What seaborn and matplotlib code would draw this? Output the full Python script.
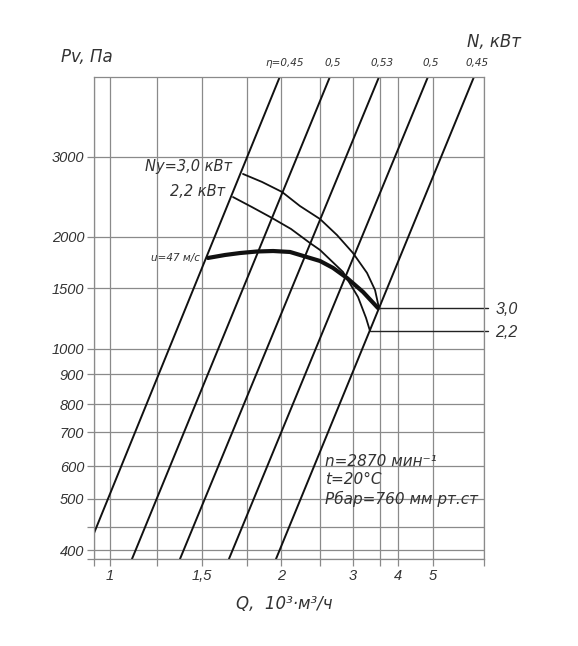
import numpy as np
import matplotlib
matplotlib.use('Agg')
import matplotlib.pyplot as plt
import seaborn as sns
from matplotlib.ticker import FixedLocator, FixedFormatter, NullFormatter

# ---- axis calibration (the printed chart is not a true log grid) ----
q_grid = [0.93, 1, 1.25, 1.5, 1.75, 2, 2.5, 3, 3.5, 4, 5, 7]
q_grid_pos = [94, 110, 157, 202, 247, 281, 320, 353, 380, 398, 433, 484]
p_grid = [382, 400, 450, 500, 600, 700, 800, 900, 1000, 1500, 2000, 3000, 4470]
p_grid_pos = [87, 96, 119, 147, 180, 214, 242, 272, 297, 358, 409, 489, 569]

q_ticks = [1, 1.5, 2, 3, 4, 5]
q_ticklabels = ['1', '1,5', '2', '3', '4', '5']
q_minor = [0.93, 1.25, 1.75, 2.5, 3.5, 7]
p_ticks = [400, 500, 600, 700, 800, 900, 1000, 1500, 2000, 3000]
p_minor = [382, 450]

# ---- efficiency rays ----
eta_labels = ['η=0,45', '0,5', '0,53', '0,5', '0,45']
eta_q_low = [0.93, 1.11, 1.372, 1.645, 1.961]
eta_p_low = [436, 382, 382, 382, 382]
eta_q_high = [1.99, 2.64, 3.48, 4.84, 6.55]
eta_p_high = [4470, 4470, 4470, 4470, 4470]

# ---- motor power curves ----
n30_q = [1.726, 1.856, 2.012, 2.229, 2.5, 2.746, 3.0, 3.25, 3.402, 3.48]
n30_p = [2753, 2644, 2513, 2340, 2191, 2020, 1827, 1633, 1480, 1313]
n22_q = [1.668, 1.784, 1.931, 2.118, 2.361, 2.5, 2.839, 3.087, 3.232, 3.306]
n22_p = [2449, 2328, 2202, 2083, 1933, 1859, 1642, 1413, 1229, 1127]

# ---- fan curve u=47 m/s ----
fan_q = [1.531, 1.623, 1.708, 1.82, 1.939, 2.106, 2.32, 2.5, 2.686, 2.902, 3.177, 3.46]
fan_p = [1777, 1807, 1827, 1843, 1848, 1838, 1786, 1747, 1680, 1587, 1461, 1313]

# right-hand power marks
n_marks = ['3,0', '2,2']
n_marks_q = [3.48, 3.306]
n_marks_p = [1313, 1127]


def interp_ext(x, xp, fp):
    x = np.asarray(x, float)
    y = np.interp(x, xp, fp)
    lo = (fp[1] - fp[0]) / (xp[1] - xp[0])
    hi = (fp[-1] - fp[-2]) / (xp[-1] - xp[-2])
    y = np.where(x < xp[0], fp[0] + (x - xp[0]) * lo, y)
    y = np.where(x > xp[-1], fp[-1] + (x - xp[-1]) * hi, y)
    return y


def make_scale(vals, pos):
    lv = np.log10(vals)
    pos = np.asarray(pos, float)

    def fwd(v):
        v = np.clip(np.asarray(v, float), 1e-9, None)
        return interp_ext(np.log10(v), lv, pos)

    def inv(p):
        return 10 ** interp_ext(np.asarray(p, float), pos, lv)
    return fwd, inv


sns.set_style('white')
plt.rcParams['font.family'] = ['DejaVu Sans']
txt = '#333333'
grid_c = '#8a8a8a'
tickfont = dict(family=['Liberation Sans', 'DejaVu Sans'], style='italic', size=10.5)

fig = plt.figure(figsize=(5.78, 6.46), dpi=100)
ax = fig.add_axes([94 / 578, 87 / 646, 390 / 578, 482 / 646])
ax.set_xscale('function', functions=make_scale(q_grid, q_grid_pos))
ax.set_yscale('function', functions=make_scale(p_grid, p_grid_pos))
ax.set_xlim(q_grid[0], q_grid[-1])
ax.set_ylim(p_grid[0], p_grid[-1])

ax.xaxis.set_major_locator(FixedLocator(q_ticks))
ax.xaxis.set_major_formatter(FixedFormatter(q_ticklabels))
ax.xaxis.set_minor_locator(FixedLocator(q_minor))
ax.xaxis.set_minor_formatter(NullFormatter())
ax.yaxis.set_major_locator(FixedLocator(p_ticks))
ax.yaxis.set_major_formatter(FixedFormatter([str(v) for v in p_ticks]))
ax.yaxis.set_minor_locator(FixedLocator(p_minor))
ax.yaxis.set_minor_formatter(NullFormatter())

ax.grid(True, which='both', color=grid_c, lw=0.9)
ax.tick_params(which='both', direction='out', length=5, width=0.9, color=grid_c,
               bottom=True, left=True, top=False, right=False)
ax.tick_params(axis='both', pad=2)
for lab in ax.get_xticklabels() + ax.get_yticklabels():
    lab.set_fontproperties(tickfont)
    lab.set_color(txt)
for s in ax.spines.values():
    s.set_color(grid_c)
    s.set_linewidth(0.9)

# efficiency rays
for i in range(len(eta_labels)):
    sns.lineplot(x=[eta_q_low[i], eta_q_high[i]], y=[eta_p_low[i], eta_p_high[i]],
                 ax=ax, color='#111111', lw=1.4, estimator=None, sort=False)
    ax.annotate(eta_labels[i], (eta_q_high[i], eta_p_high[i]),
                xytext=(5 if i == 0 else 3, 14), textcoords='offset pixels',
                ha='center', va='center', fontsize=7.5, style='italic',
                color=txt, annotation_clip=False)

# power curves and fan curve
line_kw = dict(ax=ax, color='#111111', estimator=None, sort=False,
               solid_joinstyle='round', solid_capstyle='round')
sns.lineplot(x=n30_q, y=n30_p, lw=1.3, **line_kw)
sns.lineplot(x=n22_q, y=n22_p, lw=1.3, **line_kw)
sns.lineplot(x=fan_q, y=fan_p, lw=3.0, **line_kw)

for i in range(len(n_marks)):
    sns.lineplot(x=[n_marks_q[i], 7.2], y=[n_marks_p[i], n_marks_p[i]], ax=ax,
                 color='#222222', lw=1.0, estimator=None, sort=False)
    ax.lines[-1].set_clip_on(False)
    ax.annotate(n_marks[i], (7.2, n_marks_p[i]), xytext=(7, -1),
                textcoords='offset pixels', ha='left', va='center',
                fontsize=11.5, style='italic', color=txt,
                family=['Liberation Sans', 'DejaVu Sans'], annotation_clip=False)

ax.annotate('Ny=3,0 кВт', (n30_q[0], n30_p[0]), xytext=(-11, 7), textcoords='offset pixels',
            ha='right', va='center', fontsize=10.5, style='italic', color=txt)
ax.annotate('2,2 кВт', (n22_q[0], n22_p[0]), xytext=(-8, 6), textcoords='offset pixels',
            ha='right', va='center', fontsize=10.5, style='italic', color=txt)
ax.annotate('u=47 м/с', (fan_q[0], fan_p[0]), xytext=(-8, 0), textcoords='offset pixels',
            ha='right', va='center', fontsize=7.5, style='italic', color=txt)

info = ['n=2870 мин⁻¹', 't=20°C', 'Рбар=760 мм рт.ст']
info_y = [0.203, 0.164, 0.124]
for s, yy in zip(info, info_y):
    ax.text(0.592, yy, s, transform=ax.transAxes, ha='left', va='center',
            fontsize=11, style='italic', color=txt)

ax.set_xlabel('')
ax.set_ylabel('')
fig.text(61 / 578, 1 - 57 / 646, 'Pv, Па', ha='left', va='center',
         fontsize=12, style='italic', color=txt)
fig.text(467 / 578, 1 - 42 / 646, 'N, кВт', ha='left', va='center',
         fontsize=12, style='italic', color=txt)
fig.text(284 / 578, 1 - 604 / 646, 'Q,  10³·м³/ч', ha='center', va='center',
         fontsize=12, style='italic', color=txt)

fig.savefig('out.png', dpi=100, facecolor='white')
